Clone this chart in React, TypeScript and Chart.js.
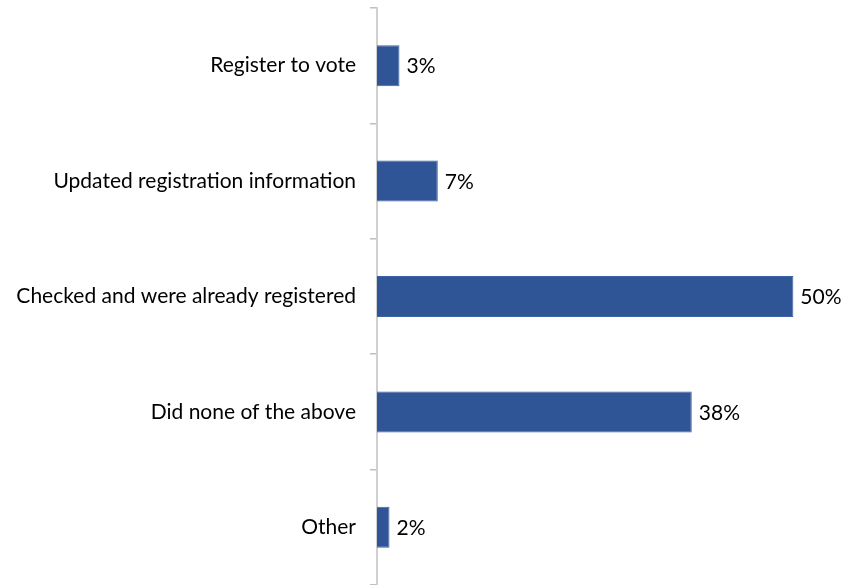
import React, { useEffect, useRef } from "react";
import { Chart, registerables } from "chart.js";

Chart.register(...registerables);

const categories = [
  "Register to vote",
  "Updated registration information",
  "Checked and were already registered",
  "Did none of the above",
  "Other",
];
const values = [2.7, 7.3, 50, 37.8, 1.5];
const valueLabels = ["3%", "7%", "50%", "38%", "2%"];

const FONT = "Lato, 'Open Sans', sans-serif";

const labelPlugin = {
  id: "barLabels",
  afterDatasetsDraw(chart: any) {
    const ctx = chart.ctx;
    const meta = chart.getDatasetMeta(0);
    ctx.save();
    ctx.font = `21px ${FONT}`;
    ctx.fillStyle = "#000000";
    ctx.textAlign = "left";
    ctx.textBaseline = "middle";
    meta.data.forEach((bar: any, i: number) => {
      ctx.fillText(valueLabels[i], bar.x + 7, bar.y + 1);
    });
    ctx.restore();
  },
};

export default function App() {
  const ref = useRef<HTMLCanvasElement>(null);
  useEffect(() => {
    if (!ref.current) return;
    const chart = new Chart(ref.current, {
      type: "bar",
      data: {
        labels: categories,
        datasets: [
          {
            data: values,
            backgroundColor: "#2F5597",
            borderColor: "#3B62A6",
            borderWidth: 1,
            categoryPercentage: 1,
            barPercentage: 0.355,
          },
        ],
      },
      options: {
        indexAxis: "y",
        animation: false,
        responsive: false,
        maintainAspectRatio: false,
        layout: { padding: { top: 8, bottom: 0, left: 0, right: 8 } },
        plugins: {
          legend: { display: false },
          tooltip: { enabled: false },
        },
        scales: {
          x: {
            display: false,
            min: 0,
            max: 55,
          },
          y: {
            afterFit(scale: any) {
              scale.width = 377;
              scale.paddingTop = 0;
              scale.paddingBottom = 0;
            },
            grid: {
              drawOnChartArea: false,
              drawTicks: true,
              tickLength: 7,
              color: "#BFBFBF",
              lineWidth: 1.5,
            },
            border: { display: true, color: "#D0D0D0", width: 2 },
            ticks: {
              color: "#000000",
              padding: 14,
              font: { family: FONT, size: 21 },
            },
          },
        },
      },
      plugins: [labelPlugin],
    });
    return () => chart.destroy();
  }, []);
  return (
    <div style={{ position: "fixed", left: 0, top: 0, width: 843, height: 585, background: "#fff" }}>
      <canvas ref={ref} width={843} height={585} style={{ display: "block" }} />
    </div>
  );
}
